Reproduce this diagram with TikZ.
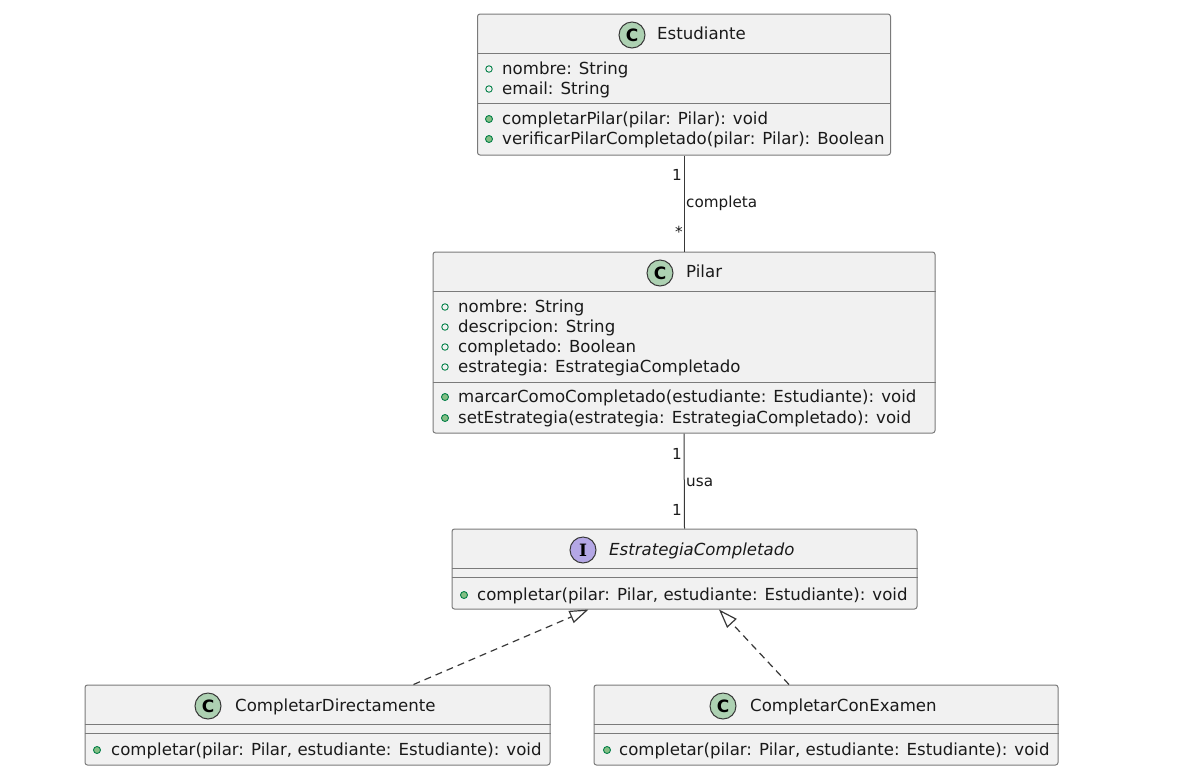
\documentclass[tikz,border=0pt]{standalone}
\usepackage{fontspec}
\setmainfont{DejaVu Sans}
\newfontfamily\umliconfont{DejaVu Serif}
\usetikzlibrary{arrows.meta,calc}
\definecolor{UmlFill}{HTML}{F1F1F1}
\definecolor{UmlBorder}{HTML}{7A7A7A}
\definecolor{UmlLine}{HTML}{383838}
\definecolor{UmlText}{HTML}{1A1A1A}
\definecolor{UmlClassIcon}{HTML}{ADD1B2}
\definecolor{UmlIfaceIcon}{HTML}{B4A7E5}
\definecolor{UmlVisDark}{HTML}{038048}
\definecolor{UmlVisLight}{HTML}{84BE84}
\tikzset{
  uml/box/.style={
    draw=UmlBorder,
    line width=1pt,
    rounded corners=2.5pt,
    fill=UmlFill,
    inner sep=0pt
  },
  uml/sep/.style={draw=UmlBorder, line width=1pt},
  uml/text/.style={
    anchor=west,
    inner sep=0pt,
    yshift=-2.5pt,
    text=UmlText,
    font=\fontsize{16.6}{20}\selectfont,
    text height=10.5pt,
    text depth=4pt
  },
  uml/attr/.style={circle, draw=UmlVisDark, line width=0.9pt, minimum size=6.5pt, inner sep=0pt},
  uml/meth/.style={circle, draw=UmlVisDark, line width=0.9pt, fill=UmlVisLight, minimum size=7pt, inner sep=0pt},
  uml/cicon/.style={
    circle,
    draw=UmlLine,
    line width=1pt,
    fill=UmlClassIcon,
    minimum size=26pt,
    inner sep=0pt,
    text=black,
    font=\bfseries\fontsize{17}{17}\selectfont
  },
  uml/iicon/.style={
    circle,
    draw=UmlLine,
    line width=1pt,
    fill=UmlIfaceIcon,
    minimum size=26pt,
    inner sep=0pt,
    text=black,
    font=\umliconfont\bfseries\fontsize{17}{17}\selectfont
  },
  uml/link/.style={draw=UmlLine, line width=1pt},
  uml/realize/.style={draw=UmlLine, line width=1.2pt, dash pattern=on 7pt off 5pt, -{Triangle[length=19pt,width=13pt,fill=white]}},
  uml/label/.style={inner sep=0pt, text=UmlText, font=\fontsize{15.2}{18}\selectfont}
}

\begin{document}
\begin{tikzpicture}[x=1pt,y=-1pt]
  \useasboundingbox[fill=white] (0,0) rectangle (1189,772);

  % Estudiante
  \node[uml/box,minimum width=413pt,minimum height=141pt] (est) at (684,84.5) {};
  \draw[uml/sep] ($(est.north west)+(0,40)$) -- ($(est.north east)+(0,40)$);
  \draw[uml/sep] ($(est.north west)+(0,90)$) -- ($(est.north east)+(0,90)$);
  \node[uml/cicon] (est-icon) at (632,35) {C};
  \node[uml/text] (est-name) at (657,34) {Estudiante};
  \node[uml/attr] at (489,69) {};
  \node[uml/text] at (502,69) {nombre: String};
  \node[uml/attr] at (489,89) {};
  \node[uml/text] at (502,89) {email: String};
  \node[uml/meth] at (489,119) {};
  \node[uml/text] at (502,119) {completarPilar(pilar: Pilar): void};
  \node[uml/meth] at (489,139) {};
  \node[uml/text] at (502,139) {verificarPilarCompletado(pilar: Pilar): Boolean};

  % Pilar
  \node[uml/box,minimum width=502pt,minimum height=181pt] (pil) at (684,342.5) {};
  \draw[uml/sep] ($(pil.north west)+(0,40)$) -- ($(pil.north east)+(0,40)$);
  \draw[uml/sep] ($(pil.north west)+(0,131)$) -- ($(pil.north east)+(0,131)$);
  \node[uml/cicon] (pil-icon) at (660,273) {C};
  \node[uml/text] (pil-name) at (686,272) {Pilar};
  \node[uml/attr] at (445,307) {};
  \node[uml/text] at (458,307) {nombre: String};
  \node[uml/attr] at (445,327) {};
  \node[uml/text] at (458,327) {descripcion: String};
  \node[uml/attr] at (445,347) {};
  \node[uml/text] at (458,347) {completado: Boolean};
  \node[uml/attr] at (445,367) {};
  \node[uml/text] at (458,367) {estrategia: EstrategiaCompletado};
  \node[uml/meth] at (445,397) {};
  \node[uml/text] at (458,397) {marcarComoCompletado(estudiante: Estudiante): void};
  \node[uml/meth] at (445,418) {};
  \node[uml/text] at (458,418) {setEstrategia(estrategia: EstrategiaCompletado): void};

  % EstrategiaCompletado
  \node[uml/box,minimum width=465pt,minimum height=80pt] (estr) at (684.5,569) {};
  \draw[uml/sep] ($(estr.north west)+(0,40)$) -- ($(estr.north east)+(0,40)$);
  \draw[uml/sep] ($(estr.north west)+(0,49)$) -- ($(estr.north east)+(0,49)$);
  \node[uml/iicon] (estr-icon) at (583,550) {I};
  \node[uml/text,font=\itshape\fontsize{16.6}{20}\selectfont] (estr-name) at (609,550) {EstrategiaCompletado};
  \node[uml/meth] at (464,595) {};
  \node[uml/text] at (477,595) {completar(pilar: Pilar, estudiante: Estudiante): void};

  % CompletarDirectamente
  \node[uml/box,minimum width=465pt,minimum height=80pt] (cd) at (317.5,725) {};
  \draw[uml/sep] ($(cd.north west)+(0,40)$) -- ($(cd.north east)+(0,40)$);
  \draw[uml/sep] ($(cd.north west)+(0,49)$) -- ($(cd.north east)+(0,49)$);
  \node[uml/cicon] (cd-icon) at (208,706) {C};
  \node[uml/text] (cd-name) at (235,706) {CompletarDirectamente};
  \node[uml/meth] at (97,750) {};
  \node[uml/text] at (111,750) {completar(pilar: Pilar, estudiante: Estudiante): void};

  % CompletarConExamen
  \node[uml/box,minimum width=464pt,minimum height=80pt] (cce) at (826,725) {};
  \draw[uml/sep] ($(cce.north west)+(0,40)$) -- ($(cce.north east)+(0,40)$);
  \draw[uml/sep] ($(cce.north west)+(0,49)$) -- ($(cce.north east)+(0,49)$);
  \node[uml/cicon] (cce-icon) at (723,706) {C};
  \node[uml/text] (cce-name) at (750,706) {CompletarConExamen};
  \node[uml/meth] at (607,750) {};
  \node[uml/text] at (619,750) {completar(pilar: Pilar, estudiante: Estudiante): void};

  % relations
  \draw[uml/link] (est.south) -- (pil.north);
  \draw[uml/link] (pil.south) -- (estr.north);
  \draw[uml/realize] ([xshift=96pt]cd.north) -- ([xshift=-96pt]estr.south);
  \draw[uml/realize] ([xshift=-37pt]cce.north) -- ([xshift=34.5pt]estr.south);

  \node[uml/label,anchor=east] (m1) at (682,175) {1};
  \node[uml/label,anchor=west] (m2) at (686,203) {completa};
  \node[uml/label,anchor=east] (m3) at (683,232) {*};
  \node[uml/label,anchor=east] (m4) at (682,454) {1};
  \node[uml/label,anchor=west] (m5) at (686,482) {usa};
  \node[uml/label,anchor=east] (m6) at (682,510) {1};
\end{tikzpicture}
\end{document}
